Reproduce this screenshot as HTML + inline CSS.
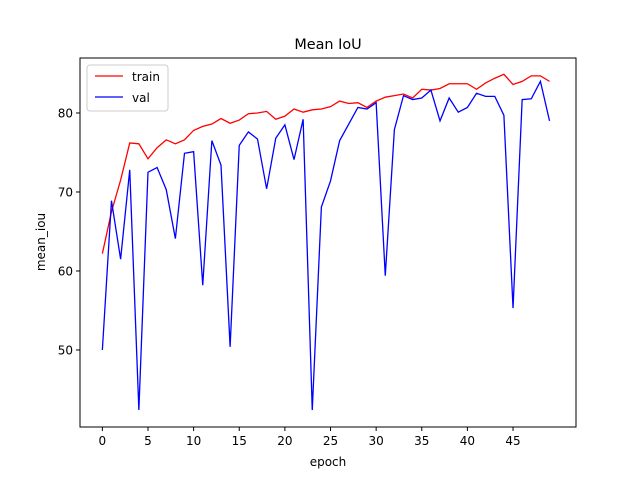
<!DOCTYPE html>
<html><head><meta charset="utf-8"><style>
body{margin:0;background:#fff;}
svg{font-family:"DejaVu Sans","Liberation Sans",sans-serif;}
</style></head><body>
<svg id="chart" width="640" height="480" viewBox="0 0 640 480">
<rect width="640" height="480" fill="#fff"/>
<text x="328" y="49" font-size="14.4" text-anchor="middle">Mean IoU</text>
<g id="marks"></g>
<g id="axes"></g>
<rect x="80" y="58" width="496" height="369" fill="none" stroke="#000" stroke-width="1"/>
<text x="328" y="466" font-size="12" text-anchor="middle">epoch</text>
<text transform="translate(45,242) rotate(-90)" font-size="12" text-anchor="middle">mean_iou</text>
<g>
<rect x="87" y="65" width="81" height="46" rx="3" fill="#fff" stroke="#ccc"/>
<line x1="95" y1="76" x2="123" y2="76" stroke="red" stroke-width="1.3"/>
<text x="132" y="81" font-size="12">train</text>
<line x1="95" y1="97" x2="123" y2="97" stroke="blue" stroke-width="1.3"/>
<text x="132" y="102" font-size="12">val</text>
</g>
</svg>
<script>
const epochs=[...Array(50).keys()];
const trainValues=[62.2,67.5,71.5,76.2,76.1,74.2,75.6,76.6,76.1,76.6,77.8,78.3,78.6,79.3,78.7,79.1,79.9,80.0,80.2,79.2,79.6,80.5,80.1,80.4,80.5,80.8,81.5,81.2,81.3,80.7,81.5,82.0,82.2,82.4,81.9,83.0,82.9,83.1,83.7,83.7,83.7,83.0,83.8,84.4,84.9,83.6,84.0,84.7,84.7,84.0];
const valValues=[50,68.9,61.5,72.8,42.4,72.5,73.1,70.3,64.1,74.9,75.1,58.2,76.5,73.4,50.4,75.9,77.6,76.7,70.4,76.8,78.5,74.1,79.2,42.4,68.1,71.4,76.5,78.6,80.7,80.5,81.3,59.4,77.9,82.2,81.7,81.9,82.9,79.0,81.9,80.1,80.7,82.5,82.1,82.1,79.7,55.3,81.7,81.8,84.0,79.0];
const xTicks=[0,5,10,15,20,25,30,35,40,45];
const yTicks=[50,60,70,80];
const X0=80,X1=576,Y0=58,Y1=427,xmin=-2.45,xmax=51.9,ymin=40.25,ymax=86.96;
const sx=v=>X0+(v-xmin)/(xmax-xmin)*(X1-X0);
const sy=v=>Y1-(v-ymin)/(ymax-ymin)*(Y1-Y0);
const NS="http://www.w3.org/2000/svg";
const marks=document.getElementById('marks'),axes=document.getElementById('axes');
function line(vals,color,name){
  const p=document.createElementNS(NS,'polyline');
  p.setAttribute('points',vals.map((v,i)=>sx(epochs[i]).toFixed(2)+','+sy(v).toFixed(2)).join(' '));
  p.setAttribute('fill','none');p.setAttribute('stroke',color);p.setAttribute('stroke-width','1.3');
  
  
  marks.appendChild(p);
}
line(trainValues,'red','train-line');
line(valValues,'blue','val-line');
xTicks.forEach(t=>{
  const x=sx(t);
  const l=document.createElementNS(NS,'line');
  l.setAttribute('x1',x);l.setAttribute('x2',x);l.setAttribute('y1',Y1);l.setAttribute('y2',Y1+4);l.setAttribute('stroke','#000');
  
  
  axes.appendChild(l);
  const tx=document.createElementNS(NS,'text');
  tx.setAttribute('x',x);tx.setAttribute('y',Y1+18);tx.setAttribute('font-size','12');tx.setAttribute('text-anchor','middle');
  tx.textContent=t;
  
  
  axes.appendChild(tx);
});
yTicks.forEach(t=>{
  const y=sy(t);
  const l=document.createElementNS(NS,'line');
  l.setAttribute('x1',X0-4);l.setAttribute('x2',X0);l.setAttribute('y1',y);l.setAttribute('y2',y);l.setAttribute('stroke','#000');
  
  
  axes.appendChild(l);
  const tx=document.createElementNS(NS,'text');
  tx.setAttribute('x',X0-7);tx.setAttribute('y',y+4.5);tx.setAttribute('font-size','12');tx.setAttribute('text-anchor','end');
  tx.textContent=t;
  
  
  axes.appendChild(tx);
});
</script>
</body></html>
